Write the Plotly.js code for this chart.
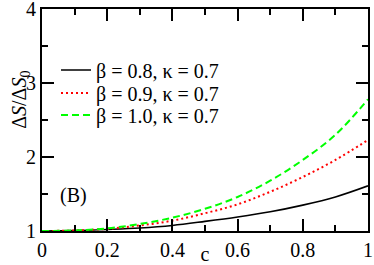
<!DOCTYPE html>
<html>
<head>
<meta charset="utf-8">
<script src="https://cdn.plot.ly/plotly-3.0.1.min.js"></script>
<style>html,body{margin:0;padding:0;background:#fff;}#chart{width:374px;height:265px;}</style>
</head>
<body>
<div id="chart"></div>
<script>
const cValues = [0, 0.1, 0.2, 0.3, 0.4, 0.5, 0.6, 0.7, 0.8, 0.9, 1.0];
const beta08 = [1.00, 1.005, 1.02, 1.04, 1.075, 1.13, 1.19, 1.26, 1.35, 1.46, 1.61];
const beta09 = [1.00, 1.007, 1.03, 1.075, 1.14, 1.24, 1.36, 1.53, 1.73, 1.96, 2.23];
const beta10 = [1.00, 1.008, 1.035, 1.095, 1.18, 1.30, 1.46, 1.68, 1.96, 2.30, 2.78];
const seriesNames = ["β = 0.8, κ = 0.7", "β = 0.9, κ = 0.7", "β = 1.0, κ = 0.7"];
const xTicks = [0, 0.2, 0.4, 0.6, 0.8, 1];
const xTickText = ["0", "0.2", "0.4", "0.6", "0.8", "1"];
const yTicks = [1, 2, 3, 4];

const FONT = "'Liberation Serif', 'Times New Roman', serif";

const traces = [
  {x: cValues, y: beta08, name: seriesNames[0], legend: "legend", mode: "lines", line: {color: "#000000", width: 1.6, shape: "spline", dash: "solid"}},
  {x: cValues, y: beta09, name: seriesNames[1], legend: "legend2", mode: "lines", line: {color: "#ff0000", width: 2, shape: "spline", dash: "2px,3px"}},
  {x: cValues, y: beta10, name: seriesNames[2], legend: "legend3", mode: "lines", line: {color: "#00ff00", width: 2, shape: "spline", dash: "7px,4px"}}
];

const axisCommon = {
  showgrid: false, zeroline: false, showline: true, linecolor: "#000", linewidth: 2,
  mirror: "allticks", ticks: "inside", ticklen: 12, tickwidth: 2, tickcolor: "#000",
  ticklabeloverflow: "allow",
  tickfont: {family: FONT, size: 20, color: "#000"},
  minor: {ticks: "inside", ticklen: 6, tickwidth: 2, tickcolor: "#000", showgrid: false}
};

function legendAt(yPaper) {
  return {x: 0.043, y: yPaper, xanchor: "left", yanchor: "middle", bgcolor: "rgba(0,0,0,0)",
          font: {family: FONT, size: 20, color: "#000"}, itemwidth: 30, borderwidth: 0};
}

const layout = {
  width: 374, height: 265,
  margin: {l: 42, r: 6, t: 9, b: 34, pad: 0},
  paper_bgcolor: "#fff", plot_bgcolor: "#fff",
  showlegend: true,
  legend: legendAt(0.725),
  legend2: legendAt(0.622),
  legend3: legendAt(0.523),
  xaxis: Object.assign({}, axisCommon, {
    range: [0, 1], tickvals: xTicks, ticktext: xTickText,
    minor: Object.assign({}, axisCommon.minor, {dtick: 0.1, tick0: 0}),
    title: {text: "c", font: {family: FONT, size: 20, color: "#000"}, standoff: 8}
  }),
  yaxis: Object.assign({}, axisCommon, {
    range: [1, 4], tickvals: yTicks,
    minor: Object.assign({}, axisCommon.minor, {dtick: 0.5, tick0: 1})
  }),
  annotations: [
    {xref: "paper", yref: "paper", x: -0.068, y: 0.59, text: "Δ<i>S</i>/Δ<i>S</i><sub>0</sub>", textangle: -90,
     showarrow: false, font: {family: FONT, size: 20, color: "#000"}, xanchor: "center", yanchor: "middle"},
    {xref: "paper", yref: "paper", x: 0.097, y: 0.16, text: "(B)", showarrow: false,
     font: {family: FONT, size: 20, color: "#000"}, xanchor: "center", yanchor: "middle"}
  ]
};

Plotly.newPlot("chart", traces, layout, {displayModeBar: false, staticPlot: true});
</script>
</body>
</html>
